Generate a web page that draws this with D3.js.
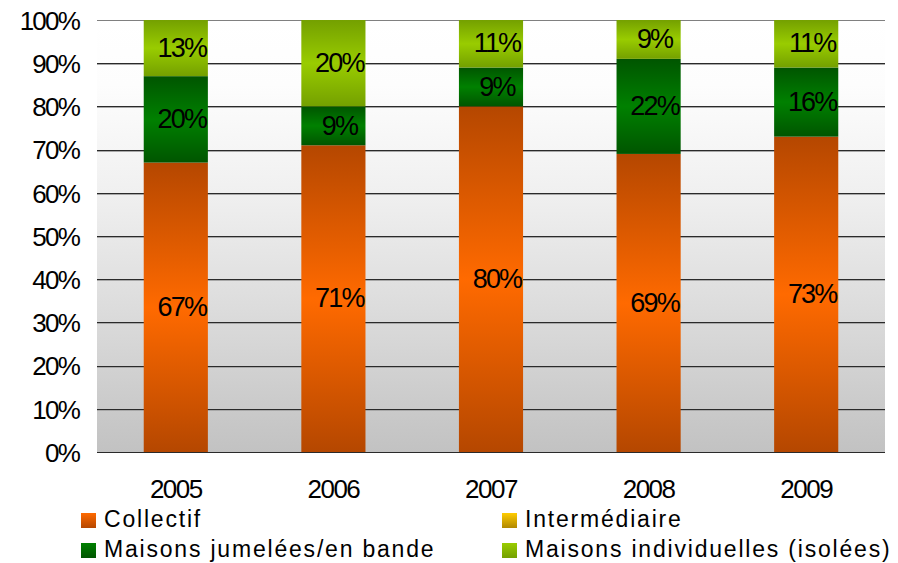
<!DOCTYPE html>
<html>
<head>
<meta charset="utf-8">
<script src="https://cdn.jsdelivr.net/npm/d3@7"></script>
<style>
  body { margin: 0; background: #fff; }
  text { font-family: "Liberation Sans", Arial, sans-serif; fill: #000; }
</style>
</head>
<body>
<svg id="chart" width="898" height="563"></svg>
<script>
// chart values
var years = ["2005", "2006", "2007", "2008", "2009"];
var collectif = [67, 71, 80, 69, 73];
var intermediaire = [0, 0, 0, 0, 0];
var jumelees = [20, 9, 9, 22, 16];
var individuelles = [13, 20, 11, 9, 11];
var seriesNames = ["Collectif", "Intermédiaire", "Maisons jumelées/en bande", "Maisons individuelles (isolées)"];
var yTicks = [0, 10, 20, 30, 40, 50, 60, 70, 80, 90, 100];

// colours for each series: dark edge / bright middle
var seriesColors = [
  { dark: "#b54700", light: "#ff6a00" },
  { dark: "#b08800", light: "#ffcc00" },
  { dark: "#005500", light: "#008000" },
  { dark: "#74a000", light: "#99cc00" }
];

var svg = d3.select("#chart");
var margin = {top: 20, right: 13, bottom: 111, left: 97};
var width = 898 - margin.left - margin.right;
var height = 563 - margin.top - margin.bottom;

var rows = years.map(function(y, i) {
  return { year: y, s0: collectif[i], s1: intermediaire[i], s2: jumelees[i], s3: individuelles[i] };
});
var stack = d3.stack().keys(["s0", "s1", "s2", "s3"]);
var layers = stack(rows);

var x = d3.scaleBand().domain(years).range([0, width]).paddingInner(0.593).paddingOuter(0.2965);
var yScale = d3.scaleLinear().domain([0, 100]).range([height, 0]);

var defs = svg.append("defs");

// plot background, white on top fading to grey
var bg = defs.append("linearGradient").attr("id", "bgGrad")
  .attr("x1", 0).attr("y1", 0).attr("x2", 0).attr("y2", 1);
bg.append("stop").attr("offset", "0").attr("stop-color", "#ffffff");
bg.append("stop").attr("offset", "0.15").attr("stop-color", "#fdfdfd");
bg.append("stop").attr("offset", "0.4").attr("stop-color", "#f0f0f0");
bg.append("stop").attr("offset", "0.75").attr("stop-color", "#d6d6d6");
bg.append("stop").attr("offset", "1").attr("stop-color", "#c2c2c2");

seriesColors.forEach(function(c, i) {
  // bar segment gradient: dark - bright - dark
  var g = defs.append("linearGradient").attr("id", "barGrad" + i)
    .attr("x1", 0).attr("y1", 0).attr("x2", 0).attr("y2", 1);
  g.append("stop").attr("offset", "0").attr("stop-color", c.dark);
  g.append("stop").attr("offset", "0.5").attr("stop-color", c.light);
  g.append("stop").attr("offset", "1").attr("stop-color", c.dark);
  // legend swatch gradient: bright on top to dark
  var lg = defs.append("linearGradient").attr("id", "legGrad" + i)
    .attr("x1", 0).attr("y1", 0).attr("x2", 0).attr("y2", 1);
  lg.append("stop").attr("offset", "0").attr("stop-color", c.light);
  lg.append("stop").attr("offset", "1").attr("stop-color", c.dark);
});

var graph = svg.append("g")
  .attr("transform", "translate(" + margin.left + "," + margin.top + ")");

graph.append("rect")
  .attr("width", width).attr("height", height)
  .attr("fill", "url(#bgGrad)");

// gridlines
var grid = graph.append("g").attr("class", "grid");
grid.selectAll("line.dark")
  .data(yTicks)
  .enter().append("line")
  .attr("class", "dark")
  .attr("x1", 0).attr("x2", width)
  .attr("y1", function(d) { return Math.round(yScale(d)) + 0.5; })
  .attr("y2", function(d) { return Math.round(yScale(d)) + 0.5; })
  .attr("stroke", function(d) { return d == 100 ? "#808080" : "#2a2a2a"; })
  .attr("stroke-width", 1);
grid.selectAll("line.light")
  .data(yTicks.filter(function(d) { return d > 0 && d < 100; }))
  .enter().append("line")
  .attr("class", "light")
  .attr("x1", 0).attr("x2", width)
  .attr("y1", function(d) { return Math.round(yScale(d)) + 1.5; })
  .attr("y2", function(d) { return Math.round(yScale(d)) + 1.5; })
  .attr("stroke", "#a8a8a8")
  .attr("stroke-width", 1);

// y axis labels
var yAxis = d3.axisLeft(yScale).tickValues(yTicks)
  .tickFormat(function(d) { return d + "%"; })
  .tickSize(0).tickPadding(18);
graph.append("g").call(yAxis)
  .call(function(g) { g.select(".domain").remove(); })
  .selectAll("text")
  .attr("font-family", "Liberation Sans, Arial, sans-serif")
  .attr("font-size", 26)
  .attr("letter-spacing", -1.8)
  .attr("dy", "0.36em")
  .attr("fill", "#000");

// x axis labels
var xAxis = d3.axisBottom(x).tickSize(0).tickPadding(37);
graph.append("g")
  .attr("transform", "translate(0," + height + ")")
  .call(xAxis)
  .call(function(g) { g.select(".domain").remove(); })
  .selectAll("text")
  .attr("font-family", "Liberation Sans, Arial, sans-serif")
  .attr("font-size", 26)
  .attr("letter-spacing", -1.5)
  .attr("dy", "0.36em")
  .attr("fill", "#000");

// stacked bars
var layer = graph.selectAll(".layer")
  .data(layers)
  .enter().append("g")
  .attr("class", "layer")
  .attr("fill", function(d, i) { return "url(#barGrad" + i + ")"; });

layer.selectAll("rect")
  .data(function(d) { return d; })
  .enter().append("rect")
  .filter(function(d) { return d[1] - d[0] > 0; })
  .attr("x", function(d) { return x(d.data.year); })
  .attr("y", function(d) { return yScale(d[1]); })
  .attr("width", x.bandwidth())
  .attr("height", function(d) { return yScale(d[0]) - yScale(d[1]); });

// value labels
layers.forEach(function(ly) {
  graph.selectAll(null)
    .data(ly.filter(function(d) { return d[1] - d[0] > 0; }))
    .enter().append("text")
    .attr("x", function(d) { return x(d.data.year) + x.bandwidth() / 2 + 6; })
    .attr("y", function(d) { return (yScale(d[0]) + yScale(d[1])) / 2 - 1; })
    .attr("dy", "0.36em")
    .attr("text-anchor", "middle")
    .attr("font-size", 27)
    .attr("letter-spacing", -1.8)
    .text(function(d) { return Math.round(d[1] - d[0]) + "%"; });
});

// legend, two columns
var legendPos = [[81, 513], [502, 513], [81, 543], [502, 543]];
var legend = svg.selectAll(".legend")
  .data(seriesNames)
  .enter().append("g")
  .attr("class", "legend")
  .attr("transform", function(d, i) { return "translate(" + legendPos[i][0] + "," + legendPos[i][1] + ")"; });
legend.append("rect")
  .attr("width", 15).attr("height", 15)
  .attr("fill", function(d, i) { return "url(#legGrad" + i + ")"; });
legend.append("text")
  .attr("x", 23).attr("y", 14)
  .attr("font-size", 23)
  .attr("letter-spacing", 1.8)
  .text(function(d) { return d; });
</script>
</body>
</html>
